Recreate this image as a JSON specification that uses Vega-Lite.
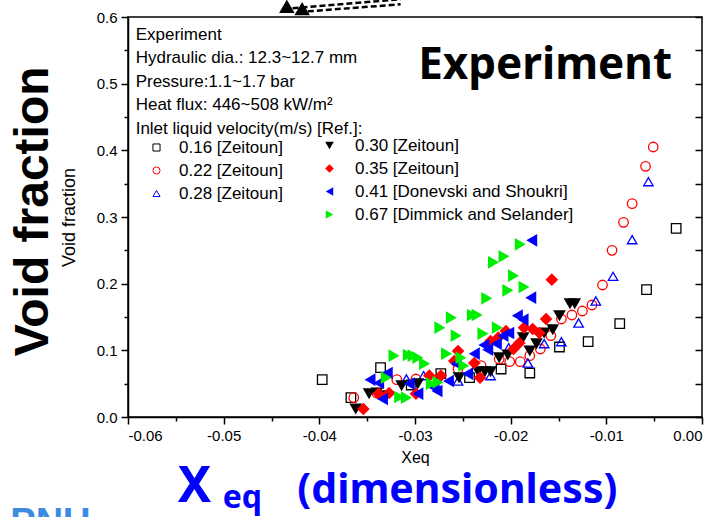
{
  "$schema": "https://vega.github.io/schema/vega-lite/v6.json",
  "width": 574,
  "height": 400,
  "autosize": {"type": "none"},
  "padding": {"left": 128, "top": 17, "right": 18, "bottom": 100},
  "background": "white",
  "config": {
    "view": {"stroke": "black", "strokeWidth": 1.5},
    "font": "Liberation Sans",
    "axis": {"domainColor": "black", "tickColor": "black", "labelColor": "black", "titleColor": "black", "domainWidth": 1.5, "tickWidth": 1.5, "grid": false, "labelFont": "Liberation Sans", "titleFont": "Liberation Sans", "titleFontWeight": "normal"}
  },
  "datasets": {
    "a": [
      {"s": "0.16 [Zeitoun]", "x": -0.0397, "y": 0.056},
      {"s": "0.16 [Zeitoun]", "x": -0.0367, "y": 0.029},
      {"s": "0.16 [Zeitoun]", "x": -0.0336, "y": 0.074},
      {"s": "0.16 [Zeitoun]", "x": -0.0304, "y": 0.048},
      {"s": "0.16 [Zeitoun]", "x": -0.0273, "y": 0.065},
      {"s": "0.16 [Zeitoun]", "x": -0.0243, "y": 0.059},
      {"s": "0.16 [Zeitoun]", "x": -0.0210, "y": 0.072},
      {"s": "0.16 [Zeitoun]", "x": -0.0180, "y": 0.066},
      {"s": "0.16 [Zeitoun]", "x": -0.0149, "y": 0.105},
      {"s": "0.16 [Zeitoun]", "x": -0.0119, "y": 0.113},
      {"s": "0.16 [Zeitoun]", "x": -0.0086, "y": 0.140},
      {"s": "0.16 [Zeitoun]", "x": -0.0058, "y": 0.191},
      {"s": "0.16 [Zeitoun]", "x": -0.0027, "y": 0.283},
      {"s": "0.22 [Zeitoun]", "x": -0.0364, "y": 0.029},
      {"s": "0.22 [Zeitoun]", "x": -0.0340, "y": 0.036},
      {"s": "0.22 [Zeitoun]", "x": -0.0319, "y": 0.056},
      {"s": "0.22 [Zeitoun]", "x": -0.0299, "y": 0.057},
      {"s": "0.22 [Zeitoun]", "x": -0.0255, "y": 0.072},
      {"s": "0.22 [Zeitoun]", "x": -0.0231, "y": 0.077},
      {"s": "0.22 [Zeitoun]", "x": -0.0212, "y": 0.087},
      {"s": "0.22 [Zeitoun]", "x": -0.0201, "y": 0.083},
      {"s": "0.22 [Zeitoun]", "x": -0.0190, "y": 0.083},
      {"s": "0.22 [Zeitoun]", "x": -0.0180, "y": 0.092},
      {"s": "0.22 [Zeitoun]", "x": -0.0169, "y": 0.102},
      {"s": "0.22 [Zeitoun]", "x": -0.0158, "y": 0.122},
      {"s": "0.22 [Zeitoun]", "x": -0.0147, "y": 0.147},
      {"s": "0.22 [Zeitoun]", "x": -0.0136, "y": 0.153},
      {"s": "0.22 [Zeitoun]", "x": -0.0125, "y": 0.159},
      {"s": "0.22 [Zeitoun]", "x": -0.0115, "y": 0.168},
      {"s": "0.22 [Zeitoun]", "x": -0.0104, "y": 0.198},
      {"s": "0.22 [Zeitoun]", "x": -0.0094, "y": 0.250},
      {"s": "0.22 [Zeitoun]", "x": -0.0082, "y": 0.292},
      {"s": "0.22 [Zeitoun]", "x": -0.0073, "y": 0.320},
      {"s": "0.22 [Zeitoun]", "x": -0.0059, "y": 0.376},
      {"s": "0.22 [Zeitoun]", "x": -0.0051, "y": 0.405},
      {"s": "0.28 [Zeitoun]", "x": -0.0309, "y": 0.057},
      {"s": "0.28 [Zeitoun]", "x": -0.0291, "y": 0.062},
      {"s": "0.28 [Zeitoun]", "x": -0.0255, "y": 0.054},
      {"s": "0.28 [Zeitoun]", "x": -0.0221, "y": 0.062},
      {"s": "0.28 [Zeitoun]", "x": -0.0202, "y": 0.104},
      {"s": "0.28 [Zeitoun]", "x": -0.0182, "y": 0.081},
      {"s": "0.28 [Zeitoun]", "x": -0.0165, "y": 0.110},
      {"s": "0.28 [Zeitoun]", "x": -0.0147, "y": 0.113},
      {"s": "0.28 [Zeitoun]", "x": -0.0129, "y": 0.141},
      {"s": "0.28 [Zeitoun]", "x": -0.0111, "y": 0.174},
      {"s": "0.28 [Zeitoun]", "x": -0.0093, "y": 0.211},
      {"s": "0.28 [Zeitoun]", "x": -0.0073, "y": 0.266},
      {"s": "0.28 [Zeitoun]", "x": -0.0056, "y": 0.353}
    ],
    "b": [
      {"s": "0.30 [Zeitoun]", "x": -0.0362, "y": 0.012},
      {"s": "0.30 [Zeitoun]", "x": -0.0348, "y": 0.035},
      {"s": "0.30 [Zeitoun]", "x": -0.0340, "y": 0.036},
      {"s": "0.30 [Zeitoun]", "x": -0.0330, "y": 0.032},
      {"s": "0.30 [Zeitoun]", "x": -0.0314, "y": 0.047},
      {"s": "0.30 [Zeitoun]", "x": -0.0297, "y": 0.050},
      {"s": "0.30 [Zeitoun]", "x": -0.0254, "y": 0.059},
      {"s": "0.30 [Zeitoun]", "x": -0.0234, "y": 0.068},
      {"s": "0.30 [Zeitoun]", "x": -0.0227, "y": 0.068},
      {"s": "0.30 [Zeitoun]", "x": -0.0221, "y": 0.068},
      {"s": "0.30 [Zeitoun]", "x": -0.0212, "y": 0.089},
      {"s": "0.30 [Zeitoun]", "x": -0.0203, "y": 0.093},
      {"s": "0.30 [Zeitoun]", "x": -0.0187, "y": 0.119},
      {"s": "0.30 [Zeitoun]", "x": -0.0180, "y": 0.099},
      {"s": "0.30 [Zeitoun]", "x": -0.0173, "y": 0.110},
      {"s": "0.30 [Zeitoun]", "x": -0.0165, "y": 0.126},
      {"s": "0.30 [Zeitoun]", "x": -0.0156, "y": 0.131},
      {"s": "0.30 [Zeitoun]", "x": -0.0149, "y": 0.152},
      {"s": "0.30 [Zeitoun]", "x": -0.0138, "y": 0.170},
      {"s": "0.30 [Zeitoun]", "x": -0.0133, "y": 0.170},
      {"s": "0.35 [Zeitoun]", "x": -0.0354, "y": 0.012},
      {"s": "0.35 [Zeitoun]", "x": -0.0338, "y": 0.035},
      {"s": "0.35 [Zeitoun]", "x": -0.0327, "y": 0.036},
      {"s": "0.35 [Zeitoun]", "x": -0.0299, "y": 0.035},
      {"s": "0.35 [Zeitoun]", "x": -0.0285, "y": 0.062},
      {"s": "0.35 [Zeitoun]", "x": -0.0273, "y": 0.062},
      {"s": "0.35 [Zeitoun]", "x": -0.0259, "y": 0.084},
      {"s": "0.35 [Zeitoun]", "x": -0.0255, "y": 0.099},
      {"s": "0.35 [Zeitoun]", "x": -0.0238, "y": 0.081},
      {"s": "0.35 [Zeitoun]", "x": -0.0232, "y": 0.059},
      {"s": "0.35 [Zeitoun]", "x": -0.0221, "y": 0.114},
      {"s": "0.35 [Zeitoun]", "x": -0.0213, "y": 0.119},
      {"s": "0.35 [Zeitoun]", "x": -0.0205, "y": 0.129},
      {"s": "0.35 [Zeitoun]", "x": -0.0197, "y": 0.102},
      {"s": "0.35 [Zeitoun]", "x": -0.0191, "y": 0.111},
      {"s": "0.35 [Zeitoun]", "x": -0.0186, "y": 0.134},
      {"s": "0.35 [Zeitoun]", "x": -0.0177, "y": 0.132},
      {"s": "0.35 [Zeitoun]", "x": -0.0170, "y": 0.126},
      {"s": "0.35 [Zeitoun]", "x": -0.0163, "y": 0.147},
      {"s": "0.35 [Zeitoun]", "x": -0.0157, "y": 0.206},
      {"s": "0.41 [Donevski and Shoukri]", "x": -0.0347, "y": 0.056},
      {"s": "0.41 [Donevski and Shoukri]", "x": -0.0338, "y": 0.051},
      {"s": "0.41 [Donevski and Shoukri]", "x": -0.0334, "y": 0.027},
      {"s": "0.41 [Donevski and Shoukri]", "x": -0.0329, "y": 0.066},
      {"s": "0.41 [Donevski and Shoukri]", "x": -0.0306, "y": 0.050},
      {"s": "0.41 [Donevski and Shoukri]", "x": -0.0297, "y": 0.035},
      {"s": "0.41 [Donevski and Shoukri]", "x": -0.0280, "y": 0.044},
      {"s": "0.41 [Donevski and Shoukri]", "x": -0.0277, "y": 0.039},
      {"s": "0.41 [Donevski and Shoukri]", "x": -0.0265, "y": 0.054},
      {"s": "0.41 [Donevski and Shoukri]", "x": -0.0257, "y": 0.080},
      {"s": "0.41 [Donevski and Shoukri]", "x": -0.0245, "y": 0.065},
      {"s": "0.41 [Donevski and Shoukri]", "x": -0.0238, "y": 0.095},
      {"s": "0.41 [Donevski and Shoukri]", "x": -0.0228, "y": 0.108},
      {"s": "0.41 [Donevski and Shoukri]", "x": -0.0224, "y": 0.101},
      {"s": "0.41 [Donevski and Shoukri]", "x": -0.0215, "y": 0.110},
      {"s": "0.41 [Donevski and Shoukri]", "x": -0.0208, "y": 0.122},
      {"s": "0.41 [Donevski and Shoukri]", "x": -0.0202, "y": 0.126},
      {"s": "0.41 [Donevski and Shoukri]", "x": -0.0193, "y": 0.152},
      {"s": "0.41 [Donevski and Shoukri]", "x": -0.0187, "y": 0.146},
      {"s": "0.41 [Donevski and Shoukri]", "x": -0.0179, "y": 0.179},
      {"s": "0.41 [Donevski and Shoukri]", "x": -0.0178, "y": 0.265},
      {"s": "0.67 [Dimmick and Selander]", "x": -0.0330, "y": 0.059},
      {"s": "0.67 [Dimmick and Selander]", "x": -0.0322, "y": 0.092},
      {"s": "0.67 [Dimmick and Selander]", "x": -0.0316, "y": 0.030},
      {"s": "0.67 [Dimmick and Selander]", "x": -0.0309, "y": 0.029},
      {"s": "0.67 [Dimmick and Selander]", "x": -0.0307, "y": 0.093},
      {"s": "0.67 [Dimmick and Selander]", "x": -0.0302, "y": 0.092},
      {"s": "0.67 [Dimmick and Selander]", "x": -0.0297, "y": 0.089},
      {"s": "0.67 [Dimmick and Selander]", "x": -0.0290, "y": 0.080},
      {"s": "0.67 [Dimmick and Selander]", "x": -0.0283, "y": 0.050},
      {"s": "0.67 [Dimmick and Selander]", "x": -0.0276, "y": 0.052},
      {"s": "0.67 [Dimmick and Selander]", "x": -0.0274, "y": 0.134},
      {"s": "0.67 [Dimmick and Selander]", "x": -0.0267, "y": 0.095},
      {"s": "0.67 [Dimmick and Selander]", "x": -0.0262, "y": 0.149},
      {"s": "0.67 [Dimmick and Selander]", "x": -0.0257, "y": 0.122},
      {"s": "0.67 [Dimmick and Selander]", "x": -0.0252, "y": 0.089},
      {"s": "0.67 [Dimmick and Selander]", "x": -0.0249, "y": 0.077},
      {"s": "0.67 [Dimmick and Selander]", "x": -0.0240, "y": 0.153},
      {"s": "0.67 [Dimmick and Selander]", "x": -0.0235, "y": 0.153},
      {"s": "0.67 [Dimmick and Selander]", "x": -0.0229, "y": 0.125},
      {"s": "0.67 [Dimmick and Selander]", "x": -0.0225, "y": 0.178},
      {"s": "0.67 [Dimmick and Selander]", "x": -0.0218, "y": 0.232},
      {"s": "0.67 [Dimmick and Selander]", "x": -0.0214, "y": 0.134},
      {"s": "0.67 [Dimmick and Selander]", "x": -0.0207, "y": 0.241},
      {"s": "0.67 [Dimmick and Selander]", "x": -0.0203, "y": 0.190},
      {"s": "0.67 [Dimmick and Selander]", "x": -0.0197, "y": 0.212},
      {"s": "0.67 [Dimmick and Selander]", "x": -0.0190, "y": 0.259},
      {"s": "0.67 [Dimmick and Selander]", "x": -0.0186, "y": 0.195}
    ]
  },
  "resolve": {
    "scale": {"color": "independent", "shape": "independent"},
    "axis": {"x": "independent", "y": "independent"}
  },
  "layer": [
    {
      "data": {"name": "a"},
      "mark": {"type": "point", "filled": false, "strokeWidth": 1.3, "opacity": 1, "size": 90},
      "encoding": {
        "x": {"field": "x", "type": "quantitative", "scale": {"domain": [-0.06, 0], "nice": false, "zero": false},
          "axis": {"orient": "bottom", "title": "Xeq", "titleFontSize": 16, "titlePadding": 6, "labelFontSize": 15, "labelPadding": 4,
            "values": [-0.06, -0.055, -0.05, -0.045, -0.04, -0.035, -0.03, -0.025, -0.02, -0.015, -0.01, -0.005, 0],
            "labelExpr": "abs(datum.value*100 - round(datum.value*100)) < 0.01 ? replace(format(datum.value, '.2f'), '\u2212', '-') : ''",
            "tickSize": {"condition": {"test": "abs(datum.value*100 - round(datum.value*100)) < 0.01", "value": 7}, "value": 4}}},
        "y": {"field": "y", "type": "quantitative", "scale": {"domain": [0, 0.6], "nice": false, "zero": false},
          "axis": {"orient": "left", "title": "Void fraction", "titleFontSize": 18, "titlePadding": 18, "labelFontSize": 15, "labelPadding": 4,
            "values": [0, 0.05, 0.1, 0.15, 0.2, 0.25, 0.3, 0.35, 0.4, 0.45, 0.5, 0.55, 0.6],
            "labelExpr": "abs(datum.value*10 - round(datum.value*10)) < 0.01 ? format(datum.value, '.1f') : ''",
            "tickSize": {"condition": {"test": "abs(datum.value*10 - round(datum.value*10)) < 0.01", "value": 7}, "value": 4}}},
        "color": {"field": "s", "type": "nominal",
          "scale": {"domain": ["0.16 [Zeitoun]", "0.22 [Zeitoun]", "0.28 [Zeitoun]"], "range": ["#000000", "#ff0000", "#0000ff"]},
          "legend": {"orient": "none", "legendX": 20, "legendY": 122, "title": null, "labelFontSize": 17, "labelFont": "Liberation Sans", "labelColor": "black", "symbolSize": 50, "labelOffset": 14, "rowPadding": 5, "padding": 0, "symbolStrokeWidth": 1, "labelLimit": 400}},
        "shape": {"field": "s", "type": "nominal",
          "scale": {"domain": ["0.16 [Zeitoun]", "0.22 [Zeitoun]", "0.28 [Zeitoun]"], "range": ["square", "circle", "triangle-up"]},
          "legend": {"orient": "none", "legendX": 20, "legendY": 122, "title": null, "labelFontSize": 17, "labelFont": "Liberation Sans", "labelColor": "black", "symbolSize": 50, "labelOffset": 14, "rowPadding": 5, "padding": 0, "symbolStrokeWidth": 1, "labelLimit": 400}}
      }
    },
    {
      "data": {"name": "b"},
      "mark": {"type": "point", "filled": true, "opacity": 1, "size": 160},
      "encoding": {
        "x": {"field": "x", "type": "quantitative", "scale": {"domain": [-0.06, 0], "nice": false, "zero": false}, "axis": null},
        "y": {"field": "y", "type": "quantitative", "scale": {"domain": [0, 0.6], "nice": false, "zero": false}, "axis": null},
        "color": {"field": "s", "type": "nominal",
          "scale": {"domain": ["0.30 [Zeitoun]", "0.35 [Zeitoun]", "0.41 [Donevski and Shoukri]", "0.67 [Dimmick and Selander]"], "range": ["#000000", "#ff0000", "#0000ff", "#00ee00"]},
          "legend": {"orient": "none", "legendX": 193, "legendY": 120, "title": null, "labelFontSize": 17, "labelFont": "Liberation Sans", "labelColor": "black", "symbolSize": 75, "labelOffset": 17, "rowPadding": 5, "padding": 0, "labelLimit": 400}},
        "shape": {"field": "s", "type": "nominal",
          "scale": {"domain": ["0.30 [Zeitoun]", "0.35 [Zeitoun]", "0.41 [Donevski and Shoukri]", "0.67 [Dimmick and Selander]"], "range": ["triangle-down", "diamond", "triangle-left", "triangle-right"]},
          "legend": {"orient": "none", "legendX": 193, "legendY": 120, "title": null, "labelFontSize": 17, "labelFont": "Liberation Sans", "labelColor": "black", "symbolSize": 75, "labelOffset": 17, "rowPadding": 5, "padding": 0, "labelLimit": 400}}
      }
    },
    {
      "data": {"values": [{}]},
      "mark": {"type": "rule", "opacity": 0},
      "encoding": {
        "y": {"datum": 0, "type": "quantitative", "scale": {"domain": [0, 0.6], "nice": false, "zero": false},
          "axis": {"orient": "right", "title": null, "labels": false, "domain": false, "tickSize": -7,
            "values": [0, 0.05, 0.1, 0.15, 0.2, 0.25, 0.3, 0.35, 0.4, 0.45, 0.5, 0.55, 0.6]}}
      }
    },
    {
      "data": {"values": [{}]},
      "mark": {"type": "text", "align": "left", "baseline": "alphabetic", "fontSize": 17, "font": "Liberation Sans", "lineHeight": 23.5, "color": "black"},
      "encoding": {
        "x": {"datum": -0.0592, "type": "quantitative", "scale": {"domain": [-0.06, 0], "nice": false, "zero": false}, "axis": null},
        "y": {"datum": 0.5658, "type": "quantitative", "scale": {"domain": [0, 0.6], "nice": false, "zero": false}, "axis": null},
        "text": {"value": ["Experiment", "Hydraulic dia.: 12.3~12.7 mm", "Pressure:1.1~1.7 bar", "Heat flux: 446~508 kW/m²", "Inlet liquid velocity(m/s) [Ref.]:"]}
      }
    },
    {
      "data": {"values": [{}]},
      "mark": {"type": "text", "align": "center", "baseline": "alphabetic", "fontSize": 44, "font": "Noto Sans", "fontWeight": "bold", "color": "black"},
      "encoding": {
        "x": {"datum": -0.0164, "type": "quantitative", "scale": {"domain": [-0.06, 0], "nice": false, "zero": false}, "axis": null},
        "y": {"datum": 0.5065, "type": "quantitative", "scale": {"domain": [0, 0.6], "nice": false, "zero": false}, "axis": null},
        "text": {"value": "Experiment"}
      }
    },
    {
      "data": {"values": [{}]},
      "mark": {"type": "text", "align": "center", "baseline": "middle", "angle": 270, "fontSize": 48, "font": "Liberation Sans", "fontWeight": "bold", "color": "black"},
      "encoding": {
        "x": {"datum": -0.0698, "type": "quantitative", "scale": {"domain": [-0.06, 0], "nice": false, "zero": false}, "axis": null},
        "y": {"datum": 0.3085, "type": "quantitative", "scale": {"domain": [0, 0.6], "nice": false, "zero": false}, "axis": null},
        "text": {"value": "Void fraction"}
      }
    },
    {
      "data": {"values": [{}]},
      "mark": {"type": "text", "align": "left", "baseline": "alphabetic", "fontSize": 50, "font": "Noto Sans", "fontWeight": "bold", "color": "#0000ff"},
      "encoding": {
        "x": {"datum": -0.0548, "type": "quantitative", "scale": {"domain": [-0.06, 0], "nice": false, "zero": false}, "axis": null},
        "y": {"datum": -0.128, "type": "quantitative", "scale": {"domain": [0, 0.6], "nice": false, "zero": false}, "axis": null},
        "text": {"value": "X"}
      }
    },
    {
      "data": {"values": [{}]},
      "mark": {"type": "text", "align": "left", "baseline": "alphabetic", "fontSize": 32, "font": "Noto Sans", "fontWeight": "bold", "color": "#0000ff"},
      "encoding": {
        "x": {"datum": -0.0501, "type": "quantitative", "scale": {"domain": [-0.06, 0], "nice": false, "zero": false}, "axis": null},
        "y": {"datum": -0.137, "type": "quantitative", "scale": {"domain": [0, 0.6], "nice": false, "zero": false}, "axis": null},
        "text": {"value": "eq"}
      }
    },
    {
      "data": {"values": [{}]},
      "mark": {"type": "text", "align": "left", "baseline": "alphabetic", "fontSize": 41, "font": "Noto Sans", "fontWeight": "bold", "color": "#0000ff"},
      "encoding": {
        "x": {"datum": -0.0423, "type": "quantitative", "scale": {"domain": [-0.06, 0], "nice": false, "zero": false}, "axis": null},
        "y": {"datum": -0.129, "type": "quantitative", "scale": {"domain": [0, 0.6], "nice": false, "zero": false}, "axis": null},
        "text": {"value": "(dimensionless)"}
      }
    },
    {
      "data": {"values": [{}]},
      "mark": {"type": "text", "align": "left", "baseline": "alphabetic", "fontSize": 38, "font": "Liberation Sans", "fontWeight": "bold", "color": "#3d8be0"},
      "encoding": {
        "x": {"datum": -0.0723, "type": "quantitative", "scale": {"domain": [-0.06, 0], "nice": false, "zero": false}, "axis": null},
        "y": {"datum": -0.1775, "type": "quantitative", "scale": {"domain": [0, 0.6], "nice": false, "zero": false}, "axis": null},
        "text": {"value": "PNU"}
      }
    },
    {
      "data": {"values": [{}]},
      "mark": {"type": "rule", "color": "black", "strokeWidth": 2.5, "strokeDash": [6, 3]},
      "encoding": {
        "x": {"datum": -0.0428, "type": "quantitative", "scale": {"domain": [-0.06, 0], "nice": false, "zero": false}, "axis": null},
        "y": {"datum": 0.6130, "type": "quantitative", "scale": {"domain": [0, 0.6], "nice": false, "zero": false}, "axis": null},
        "x2": {"datum": -0.0315},
        "y2": {"datum": 0.6265}
      }
    },
    {
      "data": {"values": [{}]},
      "mark": {"type": "rule", "color": "black", "strokeWidth": 2.5, "strokeDash": [6, 3]},
      "encoding": {
        "x": {"datum": -0.0412, "type": "quantitative", "scale": {"domain": [-0.06, 0], "nice": false, "zero": false}, "axis": null},
        "y": {"datum": 0.6085, "type": "quantitative", "scale": {"domain": [0, 0.6], "nice": false, "zero": false}, "axis": null},
        "x2": {"datum": -0.0315},
        "y2": {"datum": 0.6190}
      }
    },
    {
      "data": {"values": [{}]},
      "mark": {"type": "point", "shape": "triangle-left", "filled": true, "color": "black", "opacity": 1, "size": 240, "angle": -30},
      "encoding": {
        "x": {"datum": -0.0436, "type": "quantitative", "scale": {"domain": [-0.06, 0], "nice": false, "zero": false}, "axis": null},
        "y": {"datum": 0.6110, "type": "quantitative", "scale": {"domain": [0, 0.6], "nice": false, "zero": false}, "axis": null}
      }
    },
    {
      "data": {"values": [{}]},
      "mark": {"type": "point", "shape": "triangle-left", "filled": true, "color": "black", "opacity": 1, "size": 240, "angle": -30},
      "encoding": {
        "x": {"datum": -0.0420, "type": "quantitative", "scale": {"domain": [-0.06, 0], "nice": false, "zero": false}, "axis": null},
        "y": {"datum": 0.6075, "type": "quantitative", "scale": {"domain": [0, 0.6], "nice": false, "zero": false}, "axis": null}
      }
    }
  ]
}
